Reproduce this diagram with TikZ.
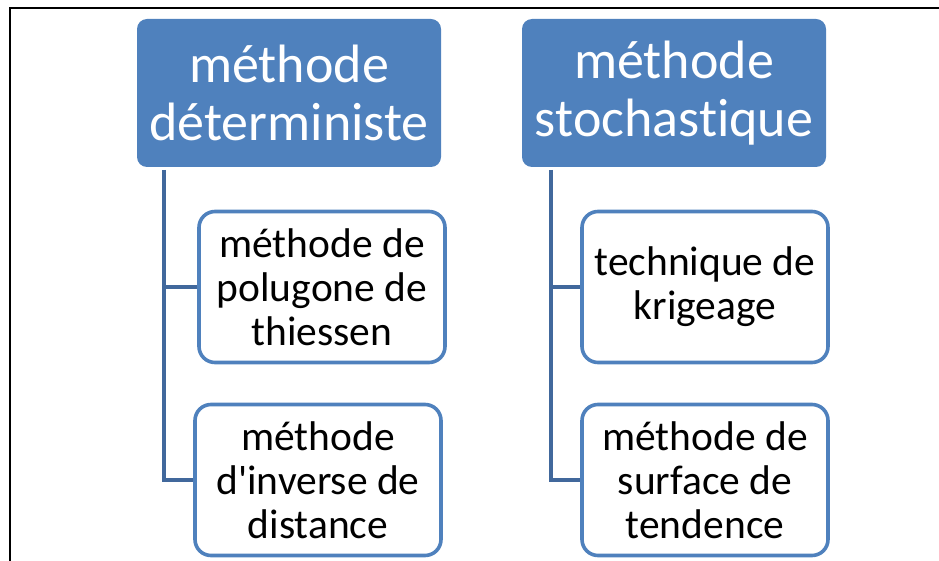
\documentclass[tikz,border=0pt]{standalone}
\usepackage{fontspec}
\setmainfont{Carlito}[Ligatures={NoCommon}]
\usetikzlibrary{positioning}
\definecolor{hdrblue}{HTML}{4F81BD}
\definecolor{linkblue}{HTML}{41689C}

\begin{document}
\begin{tikzpicture}[x=1pt,y=-1pt,
    header/.style={fill=hdrblue, rounded corners=10pt, text=white,
      minimum width=304pt, minimum height=148pt, align=center,
      font=\fontsize{54}{58}\selectfont},
    leaf/.style={draw=hdrblue, line width=3.6pt, fill=white, rounded corners=16pt,
      minimum width=246pt, minimum height=151pt, align=center,
      font=\fontsize{41.5}{44}\selectfont},
    link/.style={draw=linkblue, line width=3.6pt}]
    \useasboundingbox (0,0) rectangle (939,561);
    \draw[line width=2pt] (9.5,561) -- (9.5,8.5) -- (939,8.5);

    \node[header] (det) at (289,93) {méthode\\déterministe};
    \node[header] (sto) at (674,93) {méthode\\stochastique};

    \node[leaf] (thi) at (322,287) {méthode de\\polugone de\\thiessen};
    \node[leaf] (inv) at (318,480) {méthode\\d\textquotesingle inverse de\\distance};
    \node[leaf] (kri) at (705,287) {technique de\\krigeage};
    \node[leaf] (sur) at (705,480) {méthode de\\surface de\\tendence};

    \coordinate (detroot) at (164,170);
    \coordinate (storoot) at (551,170);
    \draw[link] (detroot) |- (inv.west);
    \draw[link] (detroot |- thi.west) -- (thi.west);
    \draw[link] (storoot) |- (sur.west);
    \draw[link] (storoot |- kri.west) -- (kri.west);
  \end{tikzpicture}
\end{document}
